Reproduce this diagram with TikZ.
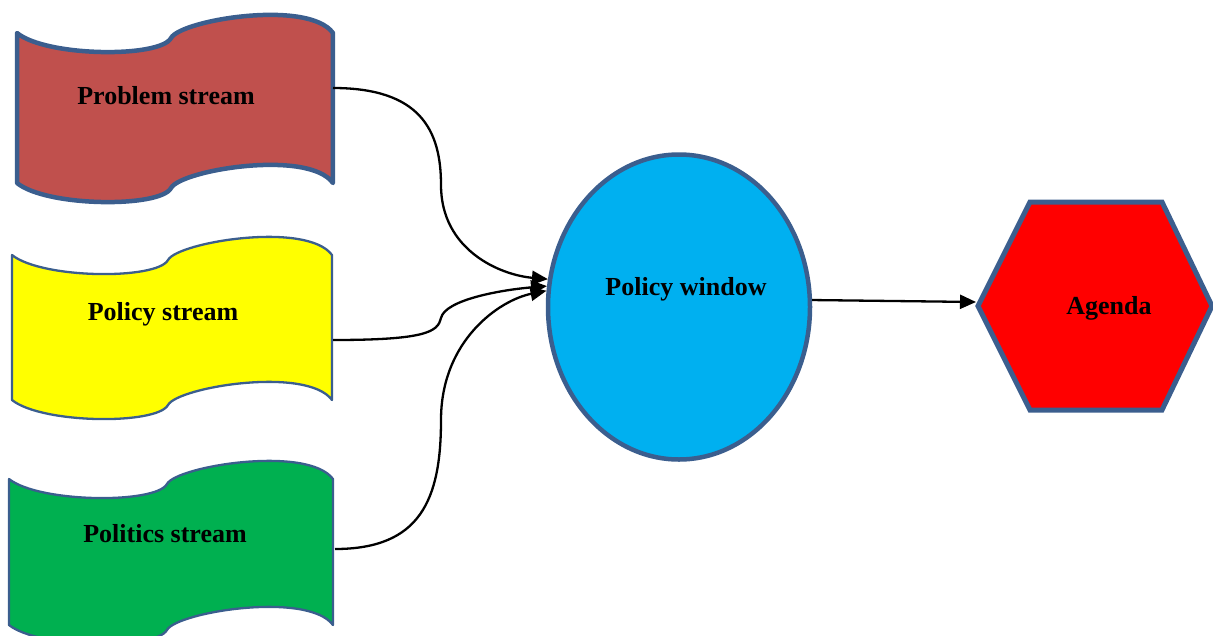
\documentclass[tikz,border=0pt]{standalone}
\usepackage{fontspec}
\setmainfont{Liberation Serif}
\usetikzlibrary{arrows.meta,shapes.geometric}
\definecolor{brd}{HTML}{3B5E8E}
\definecolor{probred}{HTML}{C0504D}
\definecolor{polyel}{HTML}{FFFF00}
\definecolor{polgreen}{HTML}{00B050}
\definecolor{winblue}{HTML}{00B0F0}
\definecolor{agred}{HTML}{FF0000}
% #1 left x, #2 top-left y, #3 width, #4 side height, #5 style
\newcommand\streamwave[5]{%
  \begin{scope}[shift={(#1,#2)},xscale=#3/320]
    \path[#5] (0,0) .. controls (30,24) and (145,25) .. (156,5)
      .. controls (166,-13) and (295,-34) .. (320,0)
      -- (320,#4)
      .. controls (295,#4-34) and (166,#4-13) .. (156,#4+5)
      .. controls (145,#4+25) and (30,#4+24) .. (0,#4) -- cycle;
  \end{scope}}
\begin{document}
\begin{tikzpicture}[x=1pt,y=-1pt,
  conn/.style={line width=2.3pt, -{Triangle[length=16pt,width=14pt]}},
  lbl/.style={font=\fontsize{26}{30}\selectfont\bfseries, inner sep=0pt, anchor=base},
  wavebox/.style={draw=brd, line join=round}]
\useasboundingbox (0,0) rectangle (1213,635);

% streams
\streamwave{17}{33}{316}{150}{wavebox, fill=probred, line width=4.5pt}
\streamwave{12}{255}{320}{145}{wavebox, fill=polyel, line width=2.3pt}
\streamwave{9}{479}{324}{146}{wavebox, fill=polgreen, line width=2.3pt}
\node[lbl] (problem) at (166,104) {Problem stream};
\node[lbl] (policy) at (163,320) {Policy stream};
\node[lbl] (politics) at (165,542) {Politics stream};
\coordinate (probOut) at (333,88);
\coordinate (polOut) at (333,340);
\coordinate (polsOut) at (335,549);

% policy window
\node[ellipse, draw=brd, line width=4.5pt, fill=winblue, minimum width=262pt,
      minimum height=305pt, inner sep=0pt] (win) at (679,307) {};
\node[lbl] (wintext) at (686,295) {Policy window};

% agenda
\path[draw=brd, line width=5pt, fill=agred, line join=miter]
  (978,306) -- (1030,202) -- (1162,202) -- (1212,306) -- (1162,410) -- (1030,410) -- cycle;
\coordinate (agL) at (976,302);
\node[lbl] (agenda) at (1109,314) {Agenda};

% connectors
\draw[conn] (probOut) .. controls (420,88) and (441,130) .. (441,185)
  .. controls (441,250) and (500,275) .. (win.168);
\draw[conn] (polOut) .. controls (425,340) and (438,332) .. (441,318)
  .. controls (445,300) and (500,290) .. (win.171);
\draw[conn] (polsOut) .. controls (420,549) and (441,500) .. (441,420)
  .. controls (441,340) and (500,300) .. (win.173.4);
\draw[conn] (win.3.5) -- (agL);
\end{tikzpicture}
\end{document}
